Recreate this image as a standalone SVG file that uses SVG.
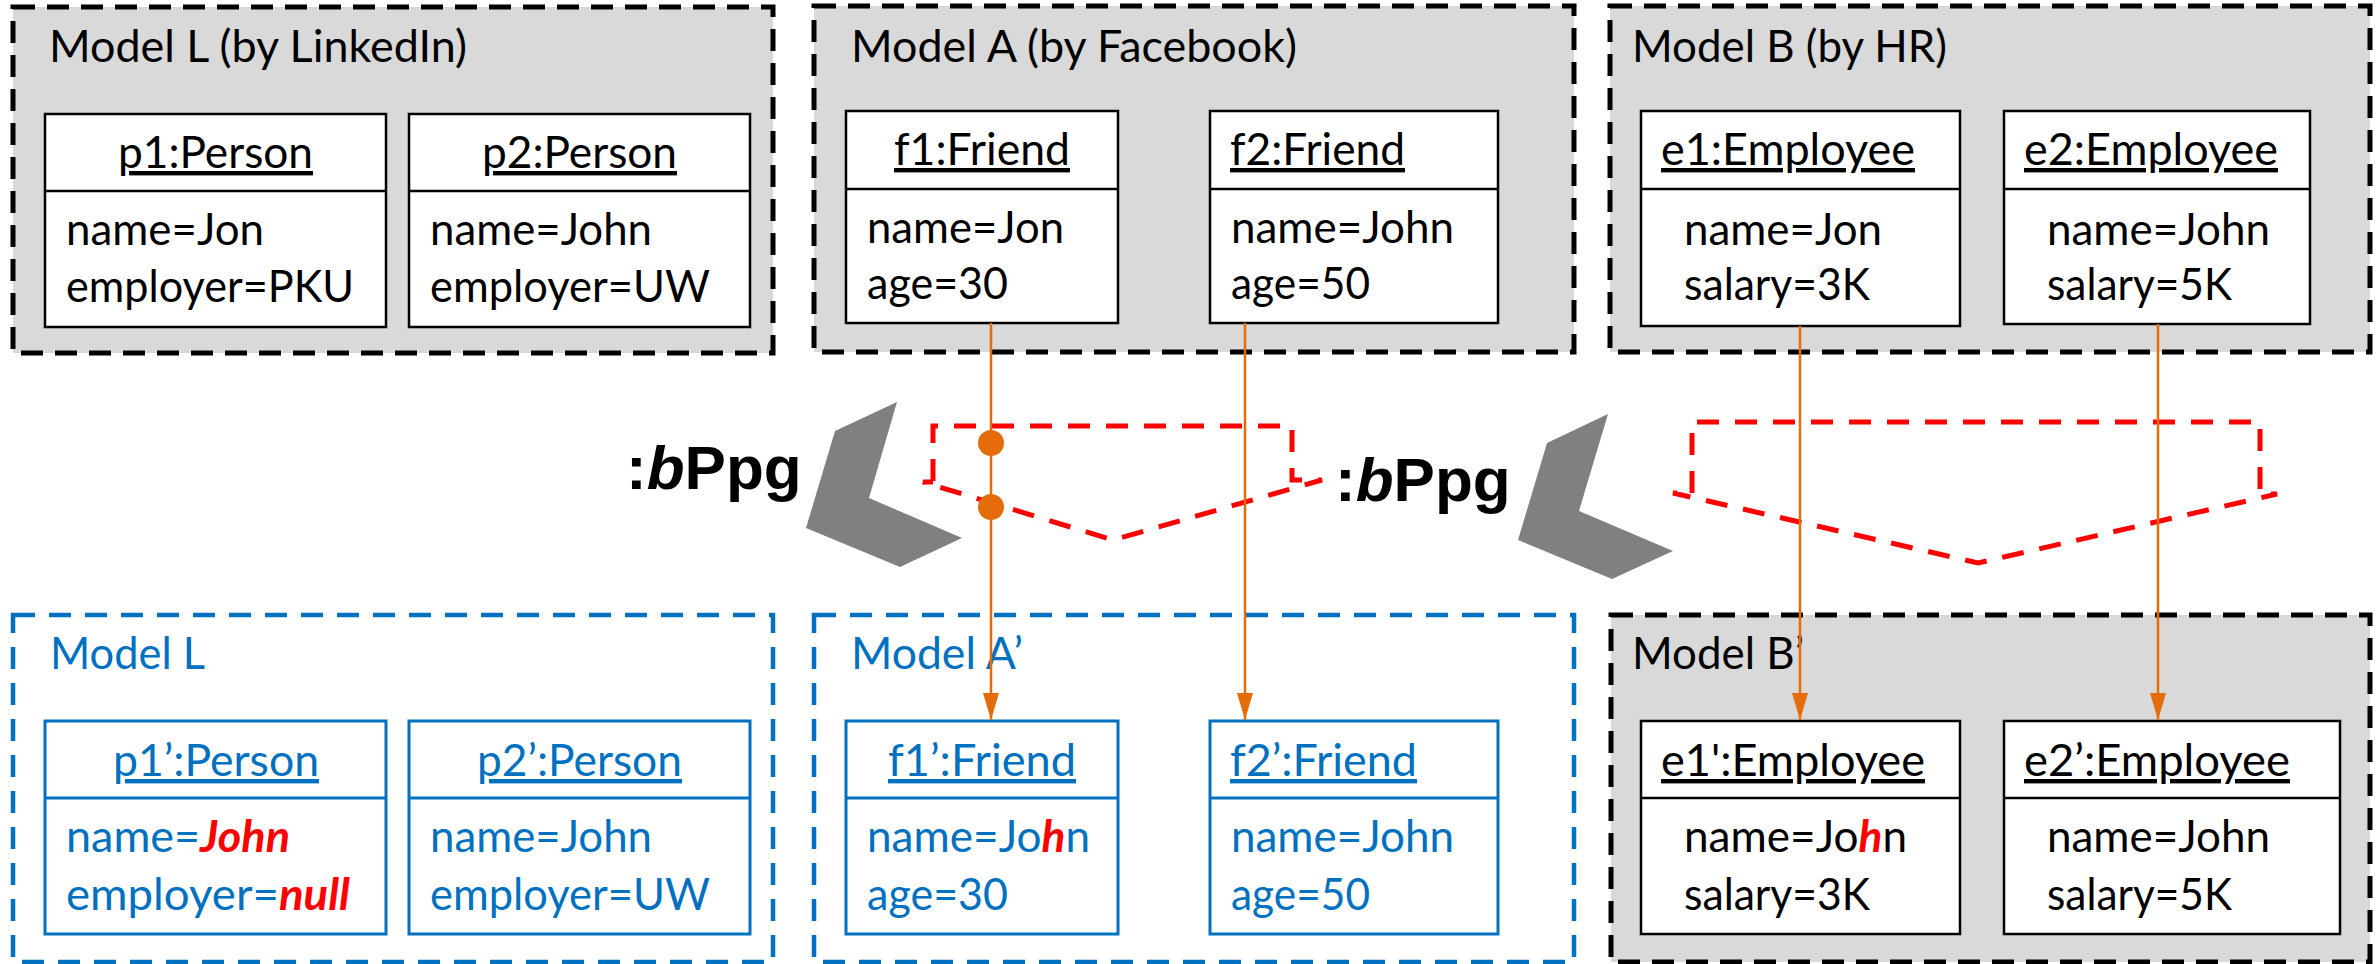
<svg xmlns="http://www.w3.org/2000/svg" width="2380" height="964" viewBox="0 0 2380 964">
<style>
.t{font-family:Lato,"Liberation Sans",sans-serif;font-size:44px}
.k{fill:#000}
.bl{fill:#0070C0}
.r{fill:#FF0000;font-weight:bold;font-style:italic}
.u{text-decoration:underline}
.outerK{fill:#D9D9D9;stroke:#000;stroke-width:5;stroke-dasharray:22 12}
.outerB{fill:#fff;stroke:#0070C0;stroke-width:4.5;stroke-dasharray:22 14}
.boxK{fill:#fff;stroke:#000;stroke-width:2.5}
.boxB{fill:#fff;stroke:#0070C0;stroke-width:3}
.divK{stroke:#000;stroke-width:2.5}
.divB{stroke:#0070C0;stroke-width:3}
.conn{stroke:#E46C0A;stroke-width:2.5;fill:none}
.dot{fill:#E46C0A}
.red{fill:none;stroke:#FF0000;stroke-width:5;stroke-dasharray:22 16}
.chev{fill:#808080}
.op{font-family:"Liberation Sans",Arial,sans-serif;font-size:62px;font-weight:bold;fill:#000}
</style>
<defs>
<marker id="arr" markerUnits="userSpaceOnUse" markerWidth="28" markerHeight="18" refX="27" refY="8" orient="auto">
<path d="M0,0 L27,8 L0,16 Z" fill="#E46C0A"/>
</marker>
</defs>

<!-- Top row -->
<g id="modelL">
<rect class="outerK" x="13" y="7" width="760" height="346"/>
<text class="t k" x="49" y="62" textLength="418" lengthAdjust="spacingAndGlyphs">Model L (by LinkedIn)</text>
</g>
<g id="p1">
<rect class="boxK" x="45" y="114" width="341" height="213"/>
<line class="divK" x1="45" y1="191" x2="386" y2="191"/>
<text class="t k u" x="118" y="168" textLength="195" lengthAdjust="spacingAndGlyphs">p1:Person</text>
<text class="t k" x="66" y="245" textLength="198" lengthAdjust="spacingAndGlyphs">name=Jon</text>
<text class="t k" x="66" y="302" textLength="288" lengthAdjust="spacingAndGlyphs">employer=PKU</text>
</g>
<g id="p2">
<rect class="boxK" x="409" y="114" width="341" height="213"/>
<line class="divK" x1="409" y1="191" x2="750" y2="191"/>
<text class="t k u" x="482" y="168" textLength="195" lengthAdjust="spacingAndGlyphs">p2:Person</text>
<text class="t k" x="430" y="245" textLength="222" lengthAdjust="spacingAndGlyphs">name=John</text>
<text class="t k" x="430" y="302" textLength="280" lengthAdjust="spacingAndGlyphs">employer=UW</text>
</g>

<g id="modelA">
<rect class="outerK" x="814" y="6" width="760" height="346"/>
<text class="t k" x="851" y="62" textLength="446" lengthAdjust="spacingAndGlyphs">Model A (by Facebook)</text>
</g>
<g id="f1">
<rect class="boxK" x="846" y="111" width="272" height="212"/>
<line class="divK" x1="846" y1="189" x2="1118" y2="189"/>
<text class="t k u" x="894" y="165" textLength="176" lengthAdjust="spacingAndGlyphs">f1:Friend</text>
<text class="t k" x="867" y="243" textLength="197" lengthAdjust="spacingAndGlyphs">name=Jon</text>
<text class="t k" x="867" y="299" textLength="141" lengthAdjust="spacingAndGlyphs">age=30</text>
</g>
<g id="f2">
<rect class="boxK" x="1210" y="111" width="288" height="212"/>
<line class="divK" x1="1210" y1="189" x2="1498" y2="189"/>
<text class="t k u" x="1230" y="165" textLength="175" lengthAdjust="spacingAndGlyphs">f2:Friend</text>
<text class="t k" x="1231" y="243" textLength="223" lengthAdjust="spacingAndGlyphs">name=John</text>
<text class="t k" x="1231" y="299" textLength="139" lengthAdjust="spacingAndGlyphs">age=50</text>
</g>

<g id="modelB">
<rect class="outerK" x="1610" y="6" width="760" height="346"/>
<text class="t k" x="1632" y="62" textLength="315" lengthAdjust="spacingAndGlyphs">Model B (by HR)</text>
</g>
<g id="e1">
<rect class="boxK" x="1641" y="111" width="319" height="215"/>
<line class="divK" x1="1641" y1="189" x2="1960" y2="189"/>
<text class="t k u" x="1661" y="165" textLength="254" lengthAdjust="spacingAndGlyphs">e1:Employee</text>
<text class="t k" x="1684" y="245" textLength="198" lengthAdjust="spacingAndGlyphs">name=Jon</text>
<text class="t k" x="1684" y="300" textLength="186" lengthAdjust="spacingAndGlyphs">salary=3K</text>
</g>
<g id="e2">
<rect class="boxK" x="2004" y="111" width="306" height="213"/>
<line class="divK" x1="2004" y1="189" x2="2310" y2="189"/>
<text class="t k u" x="2024" y="165" textLength="254" lengthAdjust="spacingAndGlyphs">e2:Employee</text>
<text class="t k" x="2047" y="245" textLength="223" lengthAdjust="spacingAndGlyphs">name=John</text>
<text class="t k" x="2047" y="300" textLength="185" lengthAdjust="spacingAndGlyphs">salary=5K</text>
</g>

<!-- Middle: operators -->
<g id="op1">
<polygon class="chev" points="897,402 835,431 806,528 900,567 962,538 869,498"/>
<text class="op" x="626" y="489"><tspan>:</tspan><tspan font-style="italic">b</tspan><tspan>Ppg</tspan></text>
</g>
<g id="op2">
<polygon class="chev" points="1608,414 1547,443 1518,540 1612,579 1673,551 1579,511"/>
<text class="op" x="1335" y="501"><tspan>:</tspan><tspan font-style="italic">b</tspan><tspan>Ppg</tspan></text>
</g>
<g id="region1">
<path class="red" d="M933,481 V426 H1292 V480 H1322 L1113,540 L923,482 H933"/>
</g>
<g id="region2">
<path class="red" d="M1692,493 V422 H2260 V494 H2277 L1978,563 L1673,493 H1692"/>
</g>

<!-- Bottom row -->
<g id="modelL2">
<rect class="outerB" x="13" y="615" width="760" height="347"/>
<text class="t bl" x="50" y="669" textLength="155" lengthAdjust="spacingAndGlyphs">Model L</text>
</g>
<g id="p1p">
<rect class="boxB" x="45" y="721" width="341" height="213"/>
<line class="divB" x1="45" y1="798" x2="386" y2="798"/>
<text class="t bl u" x="113" y="776" textLength="206" lengthAdjust="spacingAndGlyphs">p1’:Person</text>
<text class="t bl" x="66" y="852" textLength="224" lengthAdjust="spacingAndGlyphs">name=<tspan class="r">John</tspan></text>
<text class="t bl" x="66" y="910" textLength="284" lengthAdjust="spacingAndGlyphs">employer=<tspan class="r">null</tspan></text>
</g>
<g id="p2p">
<rect class="boxB" x="409" y="721" width="341" height="213"/>
<line class="divB" x1="409" y1="798" x2="750" y2="798"/>
<text class="t bl u" x="477" y="776" textLength="205" lengthAdjust="spacingAndGlyphs">p2’:Person</text>
<text class="t bl" x="430" y="852" textLength="222" lengthAdjust="spacingAndGlyphs">name=John</text>
<text class="t bl" x="430" y="910" textLength="280" lengthAdjust="spacingAndGlyphs">employer=UW</text>
</g>

<g id="modelA2">
<rect class="outerB" x="814" y="615" width="760" height="347"/>
<text class="t bl" x="851" y="669" textLength="172" lengthAdjust="spacingAndGlyphs">Model A’</text>
</g>
<g id="f1p">
<rect class="boxB" x="846" y="721" width="272" height="213"/>
<line class="divB" x1="846" y1="798" x2="1118" y2="798"/>
<text class="t bl u" x="888" y="776" textLength="188" lengthAdjust="spacingAndGlyphs">f1’:Friend</text>
<text class="t bl" x="867" y="852" textLength="223" lengthAdjust="spacingAndGlyphs">name=Jo<tspan class="r">h</tspan>n</text>
<text class="t bl" x="867" y="910" textLength="141" lengthAdjust="spacingAndGlyphs">age=30</text>
</g>
<g id="f2p">
<rect class="boxB" x="1210" y="721" width="288" height="213"/>
<line class="divB" x1="1210" y1="798" x2="1498" y2="798"/>
<text class="t bl u" x="1230" y="776" textLength="187" lengthAdjust="spacingAndGlyphs">f2’:Friend</text>
<text class="t bl" x="1231" y="852" textLength="223" lengthAdjust="spacingAndGlyphs">name=John</text>
<text class="t bl" x="1231" y="910" textLength="139" lengthAdjust="spacingAndGlyphs">age=50</text>
</g>

<g id="modelB2">
<rect class="outerK" x="1611" y="615" width="759" height="347"/>
<text class="t k" x="1632" y="669" textLength="172" lengthAdjust="spacingAndGlyphs">Model B’</text>
</g>
<g id="e1p">
<rect class="boxK" x="1641" y="721" width="319" height="213"/>
<line class="divK" x1="1641" y1="798" x2="1960" y2="798"/>
<text class="t k u" x="1661" y="776" textLength="264" lengthAdjust="spacingAndGlyphs">e1':Employee</text>
<text class="t k" x="1684" y="852" textLength="223" lengthAdjust="spacingAndGlyphs">name=Jo<tspan class="r">h</tspan>n</text>
<text class="t k" x="1684" y="910" textLength="186" lengthAdjust="spacingAndGlyphs">salary=3K</text>
</g>
<g id="e2p">
<rect class="boxK" x="2004" y="721" width="336" height="213"/>
<line class="divK" x1="2004" y1="798" x2="2340" y2="798"/>
<text class="t k u" x="2024" y="776" textLength="266" lengthAdjust="spacingAndGlyphs">e2’:Employee</text>
<text class="t k" x="2047" y="852" textLength="223" lengthAdjust="spacingAndGlyphs">name=John</text>
<text class="t k" x="2047" y="910" textLength="185" lengthAdjust="spacingAndGlyphs">salary=5K</text>
</g>

<!-- Connectors -->
<g id="connectors">
<line class="conn" x1="991" y1="323" x2="991" y2="720" marker-end="url(#arr)"/>
<line class="conn" x1="1245" y1="323" x2="1245" y2="720" marker-end="url(#arr)"/>
<line class="conn" x1="1800" y1="326" x2="1800" y2="720" marker-end="url(#arr)"/>
<line class="conn" x1="2158" y1="324" x2="2158" y2="720" marker-end="url(#arr)"/>
<circle class="dot" cx="991" cy="443" r="13"/>
<circle class="dot" cx="991" cy="507" r="13"/>
</g>
</svg>
